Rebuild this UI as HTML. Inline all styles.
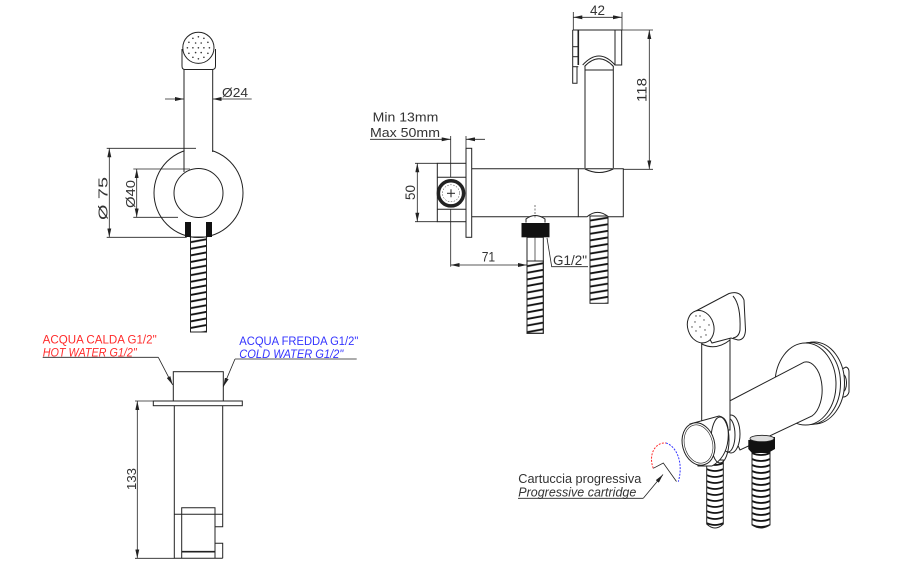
<!DOCTYPE html>
<html><head><meta charset="utf-8"><style>
html,body{margin:0;padding:0;background:#fff;}
svg{display:block;}
text{font-family:"Liberation Sans",sans-serif;fill:#333;}
</style></head><body>
<svg width="923" height="569" viewBox="0 0 923 569" xmlns="http://www.w3.org/2000/svg">
<defs>
<marker id="ar" viewBox="0 0 9 4" refX="9" refY="2" markerWidth="9" markerHeight="4" markerUnits="userSpaceOnUse" orient="auto-start-reverse" preserveAspectRatio="none"><path d="M0,0L9,2L0,4z" fill="#222"/></marker>
<pattern id="h1" patternUnits="userSpaceOnUse" x="190.5" y="237" width="16" height="6.6">
<path d="M0,5.2L16,2.2M0,-1.4L16,-4.4M0,11.8L16,8.8" stroke="#111" stroke-width="1.9"/></pattern>
<pattern id="h2" patternUnits="userSpaceOnUse" x="527" y="261" width="16.3" height="6.6">
<path d="M0,5.2L16.3,2.2M0,-1.4L16.3,-4.4M0,11.8L16.3,8.8" stroke="#111" stroke-width="1.9"/></pattern>
<pattern id="h3" patternUnits="userSpaceOnUse" x="590" y="222" width="18" height="6.6">
<path d="M0,5.2L18,2.2M0,-1.4L18,-4.4M0,11.8L18,8.8" stroke="#111" stroke-width="1.9"/></pattern>
<pattern id="h4" patternUnits="userSpaceOnUse" x="706.7" y="462" width="16.6" height="6">
<path d="M0,1Q8.3,5 16.6,1M0,7Q8.3,11 16.6,7M0,-5Q8.3,-1 16.6,-5" stroke="#111" stroke-width="1.8" fill="none"/></pattern>
<pattern id="h5" patternUnits="userSpaceOnUse" x="752" y="452" width="18" height="6">
<path d="M0,1Q9,5 18,1M0,7Q9,11 18,7M0,-5Q9,-1 18,-5" stroke="#111" stroke-width="1.8" fill="none"/></pattern>
</defs>

<!-- ============ FRONT VIEW (top-left) ============ -->
<g stroke="#222" stroke-width="1" fill="none">
<circle cx="198.5" cy="193" r="44.5"/>
<rect x="184.6" y="140" width="27.6" height="20" fill="#fff" stroke="none"/>
<circle cx="198.5" cy="193" r="24.5"/>
<line x1="184" y1="69.5" x2="184" y2="172"/>
<line x1="212.7" y1="69.5" x2="212.7" y2="152"/>
<path d="M182,49 L182,66 Q182,69.5 185,69.5 L212,69.5 Q215.5,69.5 215.5,66 L215.5,49"/>
<circle cx="198.4" cy="47.8" r="15.6" fill="#fff"/>
</g>
<g fill="#333">
<circle cx="198.4" cy="47.8" r="0.8"/>
<circle cx="203.9" cy="47.8" r="0.8"/><circle cx="192.9" cy="47.8" r="0.8"/>
<circle cx="201.2" cy="43" r="0.8"/><circle cx="195.6" cy="43" r="0.8"/>
<circle cx="201.2" cy="52.6" r="0.8"/><circle cx="195.6" cy="52.6" r="0.8"/>
<circle cx="209.4" cy="47.8" r="0.8"/><circle cx="187.4" cy="47.8" r="0.8"/>
<circle cx="198.4" cy="36.8" r="0.8"/><circle cx="198.4" cy="58.8" r="0.8"/>
<circle cx="207.9" cy="42.3" r="0.8"/><circle cx="188.9" cy="42.3" r="0.8"/>
<circle cx="207.9" cy="53.3" r="0.8"/><circle cx="188.9" cy="53.3" r="0.8"/>
<circle cx="203.9" cy="38.3" r="0.8"/><circle cx="192.9" cy="38.3" r="0.8"/>
<circle cx="203.9" cy="57.3" r="0.8"/><circle cx="192.9" cy="57.3" r="0.8"/>
</g>
<!-- hose front -->
<rect x="190.5" y="237" width="16" height="95" fill="url(#h1)" stroke="#222" stroke-width="1"/>
<rect x="185" y="222" width="6" height="15" fill="#111"/>
<rect x="206" y="222" width="6" height="15" fill="#111"/>
<!-- dims front -->
<g stroke="#222" stroke-width="0.8" fill="none">
<line x1="165" y1="99" x2="184" y2="99" marker-end="url(#ar)"/>
<line x1="251.7" y1="99" x2="212.7" y2="99" marker-end="url(#ar)"/>
<line x1="106.7" y1="148.3" x2="196" y2="148.3"/>
<line x1="106.7" y1="237.3" x2="186.7" y2="237.3"/>
<line x1="109.3" y1="148.3" x2="109.3" y2="237.3" marker-start="url(#ar)" marker-end="url(#ar)"/>
<line x1="133.3" y1="169" x2="190" y2="169"/>
<line x1="133.3" y1="217.3" x2="178" y2="217.3"/>
<line x1="136.7" y1="169" x2="136.7" y2="217.3" marker-start="url(#ar)" marker-end="url(#ar)"/>
</g>
<text x="222" y="97" font-size="13" textLength="26" lengthAdjust="spacingAndGlyphs">Ø24</text>
<text x="102.5" y="203.5" font-size="13" text-anchor="middle" transform="rotate(-90 102.5 198.5)" textLength="43" lengthAdjust="spacingAndGlyphs">Ø 75</text>
<text x="130" y="199" font-size="13" text-anchor="middle" transform="rotate(-90 130 194)" textLength="28" lengthAdjust="spacingAndGlyphs">Ø40</text>

<!-- ============ TOP VIEW (bottom-left) ============ -->
<g stroke="#222" stroke-width="1" fill="none">
<rect x="173.3" y="371.7" width="50" height="29.3"/>
<rect x="153.3" y="401" width="89" height="4.7"/>
<path d="M174.3,405.7 V558.3 H222.7"/>
<path d="M222.7,405.7 V514.3"/>
<path d="M181.7,558.3 V507.7 H215 V514.3"/>
<line x1="174.3" y1="514.3" x2="222.7" y2="514.3"/>
<path d="M215,514.3 V558.3"/>
<path d="M215,526.7 H222.7 V514.3"/>
<path d="M215,543.3 H222.7 V558.3"/>
<line x1="181.7" y1="551.7" x2="215" y2="551.7" stroke-width="1.6"/>
</g>
<g stroke="#222" stroke-width="0.8" fill="none">
<line x1="135" y1="401" x2="153.3" y2="401"/>
<line x1="135" y1="558.3" x2="174.3" y2="558.3"/>
<line x1="137.3" y1="401" x2="137.3" y2="558.3" marker-start="url(#ar)" marker-end="url(#ar)"/>
<line x1="42.7" y1="357.3" x2="158.3" y2="357.3"/>
<line x1="158.3" y1="357.3" x2="172.7" y2="385" marker-end="url(#ar)"/>
<line x1="235" y1="359" x2="356.7" y2="359"/>
<line x1="235" y1="359" x2="223.3" y2="386.7" marker-end="url(#ar)"/>
</g>
<text x="131" y="484" font-size="13" text-anchor="middle" transform="rotate(-90 131 479)" textLength="22" lengthAdjust="spacingAndGlyphs">133</text>
<text x="42.7" y="343.5" font-size="11.5" style="fill:#ff2b2b" textLength="114" lengthAdjust="spacingAndGlyphs">ACQUA CALDA G1/2"</text>
<text x="42.7" y="356.3" font-size="11.5" font-style="italic" style="fill:#ff2b2b" textLength="94" lengthAdjust="spacingAndGlyphs">HOT WATER G1/2"</text>
<text x="239.3" y="345" font-size="11.5" style="fill:#3434ff" textLength="119" lengthAdjust="spacingAndGlyphs">ACQUA FREDDA G1/2"</text>
<text x="239.3" y="357.8" font-size="11.5" font-style="italic" style="fill:#3434ff" textLength="104" lengthAdjust="spacingAndGlyphs">COLD WATER G1/2"</text>

<!-- ============ SIDE VIEW (top-middle) ============ -->
<rect x="527" y="237.3" width="16.3" height="96" fill="#fff" stroke="#222" stroke-width="1"/>
<rect x="527" y="261" width="16.3" height="72.3" fill="url(#h2)" stroke="#222" stroke-width="1"/>
<line x1="535" y1="237.3" x2="535" y2="261" stroke="#222" stroke-width="0.7"/>
<rect x="590" y="216" width="18" height="87.3" fill="url(#h3)" stroke="#222" stroke-width="1"/>
<g stroke="#222" stroke-width="1" fill="none">
<!-- handshower -->
<line x1="572.7" y1="30" x2="621.7" y2="30"/>
<path d="M572.7,30 V83.3 H577 V66.7"/>
<line x1="578.3" y1="30" x2="578.3" y2="65" stroke-width="1.6"/>
<line x1="572.7" y1="46.7" x2="578.3" y2="46.7"/>
<line x1="572.7" y1="56.7" x2="578.3" y2="56.7"/>
<line x1="572.7" y1="66.7" x2="578.3" y2="66.7"/>
<path d="M621.7,30 V65 H615 V30"/>
<path d="M582.7,65 Q599,47 615,65"/>
<path d="M584.5,66.5 Q599,51 613.5,66.5"/>
<line x1="585" y1="66" x2="585" y2="168"/>
<line x1="613.3" y1="66" x2="613.3" y2="168"/>
<line x1="585" y1="70" x2="613.3" y2="70"/>
<!-- pipe -->
<line x1="471.7" y1="168.8" x2="578.3" y2="168.8"/>
<line x1="471.7" y1="216.7" x2="578.3" y2="216.7"/>
<path d="M578.3,168.8 V216.7 H587 Q597.5,208 608.3,216.7 H623.3 V168.8 Z" fill="#fff"/>
<path d="M585,169 Q599,176 613.3,169"/>
<!-- wall plate & block -->
<rect x="466" y="148.3" width="5.7" height="89" fill="#fff"/>
<rect x="437.3" y="163.3" width="28.7" height="58.4" fill="#fff"/>
<line x1="437.3" y1="177.3" x2="466" y2="177.3"/>
<line x1="437.3" y1="209.3" x2="466" y2="209.3"/>
<circle cx="451" cy="193.3" r="12.6" stroke-width="3.5" fill="#fff"/>
<circle cx="451" cy="193.3" r="8.5" stroke-width="0.5" stroke-dasharray="1.5 1.5"/>
<line x1="447" y1="193.3" x2="455" y2="193.3"/>
<line x1="451" y1="189.3" x2="451" y2="197.3"/>
<!-- bottom connector -->
<path d="M526,222.5 V219 Q535,212 545,219 V222.5" fill="#fff"/>
<line x1="535" y1="205" x2="535" y2="218" stroke-width="0.6" stroke-dasharray="2 1.5"/>
</g>
<rect x="521.5" y="223" width="28" height="14.3" fill="#111"/>
<g stroke="#222" stroke-width="0.8" fill="none">
<line x1="573.3" y1="12" x2="573.3" y2="30"/>
<line x1="622" y1="12" x2="622" y2="30"/>
<line x1="573.3" y1="17.3" x2="622" y2="17.3" marker-start="url(#ar)" marker-end="url(#ar)"/>
<line x1="622" y1="30" x2="653" y2="30"/>
<line x1="623.3" y1="169.3" x2="653" y2="169.3"/>
<line x1="649.3" y1="30" x2="649.3" y2="169.3" marker-start="url(#ar)" marker-end="url(#ar)"/>
<line x1="450.7" y1="136" x2="450.7" y2="177.3"/>
<line x1="450.7" y1="209.3" x2="450.7" y2="266.7"/>
<line x1="466" y1="136" x2="466" y2="148.3"/>
<line x1="370" y1="139.3" x2="450.7" y2="139.3" marker-end="url(#ar)"/>
<line x1="485" y1="139.3" x2="466" y2="139.3" marker-end="url(#ar)"/>
<line x1="415" y1="163.3" x2="437.3" y2="163.3"/>
<line x1="415" y1="221.7" x2="437.3" y2="221.7"/>
<line x1="417.3" y1="163.3" x2="417.3" y2="221.7" marker-start="url(#ar)" marker-end="url(#ar)"/>
<line x1="450.7" y1="265" x2="527" y2="265" marker-start="url(#ar)" marker-end="url(#ar)"/>
<polyline points="547,238 551.7,266.7 588,266.7"/>
</g>
<text x="590" y="15" font-size="13.5" textLength="15" lengthAdjust="spacingAndGlyphs">42</text>
<text x="641.5" y="95" font-size="13.5" text-anchor="middle" transform="rotate(-90 641.5 90)" textLength="24" lengthAdjust="spacingAndGlyphs">118</text>
<text x="410" y="197.5" font-size="13.5" text-anchor="middle" transform="rotate(-90 410 192.5)" textLength="15" lengthAdjust="spacingAndGlyphs">50</text>
<text x="372.7" y="121.5" font-size="12.5" textLength="65.6" lengthAdjust="spacingAndGlyphs">Min 13mm</text>
<text x="370" y="137" font-size="12.5" textLength="70" lengthAdjust="spacingAndGlyphs">Max 50mm</text>
<text x="481.7" y="261.5" font-size="13.5" textLength="13.5" lengthAdjust="spacingAndGlyphs">71</text>
<text x="553" y="265" font-size="13.5" textLength="34" lengthAdjust="spacingAndGlyphs">G1/2"</text>

<!-- ============ ISO VIEW ============ -->
<g stroke="#222" stroke-width="1" fill="#fff">
<!-- right connector -->
<path d="M836,372 L846,367 Q849,368 849,372 L849,392 Q848,396 844,397 L838,397 Z"/>
<ellipse cx="843" cy="383" rx="3.5" ry="8.5"/>
<!-- plate -->
<ellipse cx="814" cy="383" rx="30.5" ry="41"/>
<ellipse cx="810" cy="383.5" rx="30.5" ry="41"/>
<ellipse cx="805.5" cy="384" rx="30.5" ry="41"/>
<!-- pipe -->
<path d="M720,406 L804,362.2 A16,28 0 0 1 812,416 L740,450 Z"/>
<!-- right hose -->
<path d="M752,452 V525 Q761,531 770,525 V452 Z" fill="url(#h5)"/>
</g>
<path d="M748.3,440 L775,437 L775,449 L768,453 L752,453 L748.3,449 Z" fill="#111"/>
<ellipse cx="762" cy="438.5" rx="12" ry="3.2" fill="#ddd" stroke="#222" stroke-width="0.8"/>
<g stroke="#222" stroke-width="1" fill="#fff">
<!-- left hose -->
<path d="M706.7,460 V524 Q715,532 723.3,524 V460 Z" fill="url(#h4)"/>
<!-- holder back ring -->
<ellipse cx="731" cy="434" rx="9" ry="19"/>
<ellipse cx="728" cy="435" rx="7" ry="17"/>
<!-- handle -->
<rect x="701.7" y="338" width="28.3" height="92"/>
<!-- holder body -->
<path d="M690,424 L719,416 Q730,418 728,440 Q726,458 712,466 L698,466 Z"/>
<ellipse cx="720" cy="440" rx="9" ry="23" fill="none"/>
<ellipse cx="698.5" cy="444" rx="16" ry="21.5" transform="rotate(-15 698.5 444)"/>
<ellipse cx="698.5" cy="444" rx="14" ry="19.5" transform="rotate(-15 698.5 444)" fill="none" stroke-width="0.6"/>
<!-- head -->
<path d="M701.7,344 Q716,351 730,340"/>
<path d="M694,312 L729,293.5 Q740,290 744,300 L745.5,330 Q745,340 738,340 L731,338 L712,343 Z"/>
<path d="M733,296 Q741,305 740,330 Q739,337 733,338" fill="none"/>
<ellipse cx="700.7" cy="326.7" rx="13" ry="16.5" transform="rotate(-18 700.7 326.7)"/>
</g>
<g fill="#444">
<circle cx="700" cy="327" r="0.7"/><circle cx="695" cy="322" r="0.7"/><circle cx="704" cy="320" r="0.7"/>
<circle cx="696" cy="331" r="0.7"/><circle cx="705" cy="330" r="0.7"/><circle cx="700" cy="316" r="0.7"/>
<circle cx="701" cy="337" r="0.7"/><circle cx="692" cy="327" r="0.7"/><circle cx="709" cy="325" r="0.7"/>
<circle cx="696" cy="316" r="0.7"/><circle cx="706" cy="335" r="0.7"/>
</g>
<!-- cartridge symbol -->
<path d="M653.3,468.3 C648,455 655,442 666,443" stroke="#ff2b2b" stroke-width="1" fill="none" stroke-dasharray="2 1.3"/>
<path d="M666,443 C676,446 684,462 678.3,481.7" stroke="#3434ff" stroke-width="1" fill="none" stroke-dasharray="2 1.3"/>
<path d="M653.3,468.3 L663.3,463 L676.5,481.5" stroke="#222" stroke-width="0.8" fill="none"/>
<g stroke="#222" stroke-width="0.8" fill="none">
<line x1="518" y1="498.3" x2="643.3" y2="498.3"/>
<line x1="643.3" y1="498.3" x2="663" y2="474.5" marker-end="url(#ar)"/>
</g>
<text x="518.3" y="483" font-size="12.5" textLength="123" lengthAdjust="spacingAndGlyphs">Cartuccia progressiva</text>
<text x="518.3" y="496.3" font-size="12.5" font-style="italic" textLength="118" lengthAdjust="spacingAndGlyphs">Progressive cartridge</text>
</svg>
</body></html>
